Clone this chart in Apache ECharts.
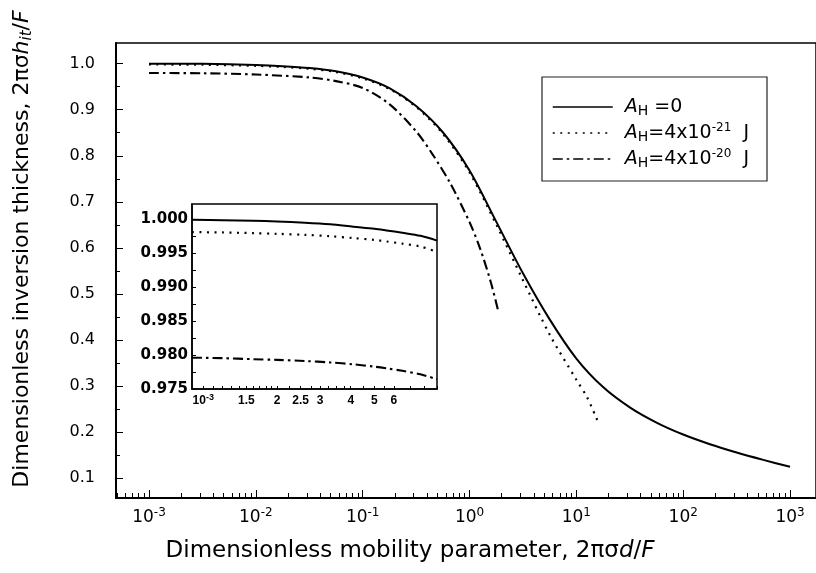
<!DOCTYPE html>
<html>
<head>
<meta charset="utf-8">
<script src="https://cdn.jsdelivr.net/npm/echarts@6/dist/echarts.min.js"></script>
<style>
html,body{margin:0;padding:0;background:#fff;}
#c{width:816px;height:573px;}
</style>
</head>
<body>
<div id="c"></div>
<script>
// ---------- data (x stored as log10 of mobility parameter) ----------
const solidLogX = [-3, -2.5, -2, -1.75, -1.5, -1.25, -1, -0.75, -0.5, -0.25, 0, 0.25, 0.5, 0.75, 1.0, 1.25, 1.5, 1.75, 2, 2.25, 2.5, 2.75, 3];
const solidY    = [0.9999, 0.9994, 0.9970, 0.9945, 0.9905, 0.9835, 0.970, 0.947, 0.908, 0.851, 0.768, 0.657, 0.545, 0.445, 0.360, 0.298, 0.254, 0.221, 0.195, 0.174, 0.156, 0.140, 0.125];

const dotLogX = [-3, -2.5, -2, -1.75, -1.5, -1.25, -1, -0.75, -0.5, -0.25, 0, 0.25, 0.5, 0.75, 1.0, 1.1, 1.198];
const dotY    = [0.9981, 0.9975, 0.9952, 0.9928, 0.9887, 0.9817, 0.968, 0.945, 0.906, 0.848, 0.764, 0.651, 0.530, 0.412, 0.314, 0.276, 0.225];

const ddLogX = [-3, -2.5, -2, -1.5, -1.25, -1, -0.75, -0.5, -0.34, -0.18, 0, 0.1, 0.2, 0.271];
const ddY    = [0.9796, 0.9790, 0.9763, 0.970, 0.962, 0.947, 0.912, 0.853, 0.801, 0.740, 0.656, 0.598, 0.525, 0.461];

// inset: x in units of 1e-3
const insetX     = [0.9, 1.2, 1.6, 2.0, 2.6, 3.3, 4.1, 5.0, 5.6, 6.5, 7.7, 9.0];
const insetSolid = [0.99997, 0.99992, 0.99982, 0.99972, 0.99954, 0.99930, 0.99895, 0.99865, 0.99840, 0.99805, 0.99760, 0.99690];
const insetDot   = [0.99815, 0.99810, 0.99800, 0.99790, 0.99775, 0.99755, 0.99727, 0.99700, 0.99677, 0.99645, 0.99603, 0.99521];
const insetDD    = [0.97962, 0.97955, 0.97940, 0.97930, 0.97913, 0.97892, 0.97864, 0.97830, 0.97805, 0.97768, 0.97717, 0.97644];

const mainXTickExp = [-3, -2, -1, 0, 1, 2, 3];
const mainYTicks = [0.1, 0.2, 0.3, 0.4, 0.5, 0.6, 0.7, 0.8, 0.9, 1.0];
const insetXLabels = [1, 1.5, 2, 2.5, 3, 4, 5, 6];
const insetYTicks = [0.975, 0.980, 0.985, 0.990, 0.995, 1.000];

const seriesNames = ['AH0', 'AH21', 'AH20'];

// ---------- build ----------
const FONT = '"DejaVu Sans", "Liberation Sans", Arial, sans-serif';
const FONT2 = '"Liberation Sans", Arial, sans-serif';
const zip = (xs, ys) => xs.map((x, i) => [x, ys[i]]);
const zipInset = (xs, ys) => xs.map((x, i) => [Math.log10(x * 1e-3), ys[i]]);

const X0 = -3.309, X1 = 3.243;
const minorX = [];
for (let n = -4; n <= 3; n++) for (let k = 2; k <= 9; k++) {
  const v = Math.log10(k) + n;
  if (v > X0 && v < X1) minorX.push(v);
}
const minorY = [0.15, 0.25, 0.35, 0.45, 0.55, 0.65, 0.75, 0.85, 0.95];

const IX0 = Math.log10(0.9e-3), IX1 = Math.log10(9e-3);
const insetXTicks = [];
for (let m = 10; m <= 90; m += (m < 20 ? 1 : (m < 40 ? 2.5 : (m < 60 ? 5 : 10)))) {
  insetXTicks.push(Math.log10(m * 1e-4));
}
const insetYMinor = [];
for (let i = 0; i <= 10; i++) insetYMinor.push(0.975 + i * 0.0025);

const supRich = {
  b: { fontSize: 17, fontFamily: FONT, color: '#000', lineHeight: 22 },
  s: { fontSize: 12, fontFamily: FONT, color: '#000', lineHeight: 12, verticalAlign: 'top' }
};
const supRichInset = {
  b: { fontSize: 12, fontFamily: FONT2, fontWeight: 'bold', color: '#000', lineHeight: 16 },
  s: { fontSize: 9, fontFamily: FONT2, fontWeight: 'bold', color: '#000', lineHeight: 9, verticalAlign: 'top' },
  n: { fontSize: 12, fontFamily: FONT2, fontWeight: 'bold', color: '#000', lineHeight: 16 }
};

const styles = [
  { type: 'solid', width: 2 },
  { type: [2, 5.5], width: 2.2 },
  { type: [10, 4, 2.5, 4], width: 2.1 }
];

const chart = echarts.init(document.getElementById('c'), null, { renderer: 'canvas' });

const option = {
  backgroundColor: '#fff',
  animation: false,
  grid: [
    { left: 116, top: 43, width: 702, height: 455, show: true, borderColor: '#000', borderWidth: 1.5, containLabel: false },
    { left: 192, top: 204, width: 245, height: 185, show: true, borderColor: '#000', borderWidth: 1.5, backgroundColor: '#fff', containLabel: false }
  ],
  xAxis: [
    { type: 'value', gridIndex: 0, min: X0, max: X1, position: 'bottom', offset: 0,
      axisLine: { show: true, onZero: false, lineStyle: { color: '#000', width: 2 } },
      axisTick: { show: true, inside: true, length: 8, customValues: mainXTickExp, lineStyle: { color: '#000', width: 1 } },
      axisLabel: { show: true, margin: 9, customValues: mainXTickExp,
        formatter: v => '{b|10}{s|' + Math.round(v) + '}', rich: supRich },
      splitLine: { show: false } },
    { type: 'value', gridIndex: 0, min: X0, max: X1, position: 'bottom', offset: 0,
      axisLine: { show: false, onZero: false },
      axisTick: { show: true, inside: true, length: 5, customValues: minorX, lineStyle: { color: '#000', width: 1 } },
      axisLabel: { show: false }, splitLine: { show: false } },
    { type: 'value', gridIndex: 1, min: IX0, max: IX1, position: 'bottom', offset: 0,
      axisLine: { show: true, onZero: false, lineStyle: { color: '#000', width: 1.5 } },
      axisTick: { show: true, inside: true, length: 3, customValues: insetXTicks, lineStyle: { color: '#000', width: 1 } },
      axisLabel: { show: true, margin: 4, customValues: insetXLabels.map(m => Math.log10(m * 1e-3)),
        formatter: v => {
          const m = Math.round(Math.pow(10, v + 3) * 10) / 10;
          return m === 1 ? '{b|10}{s|-3}' : '{n|' + m + '}';
        }, rich: supRichInset },
      splitLine: { show: false } }
  ],
  yAxis: [
    { type: 'value', gridIndex: 0, min: 0.0573, max: 1.0447, position: 'left', offset: 0,
      axisLine: { show: true, onZero: false, lineStyle: { color: '#000', width: 2 } },
      axisTick: { show: true, inside: true, length: 7, customValues: mainYTicks, lineStyle: { color: '#000', width: 1 } },
      axisLabel: { show: true, margin: 21, customValues: mainYTicks, formatter: v => v.toFixed(1),
        fontSize: 16, fontFamily: FONT, color: '#000' },
      splitLine: { show: false } },
    { type: 'value', gridIndex: 0, min: 0.0573, max: 1.0447, position: 'left', offset: 0,
      axisLine: { show: false, onZero: false },
      axisTick: { show: true, inside: true, length: 4, customValues: minorY, lineStyle: { color: '#000', width: 1 } },
      axisLabel: { show: false }, splitLine: { show: false } },
    { type: 'value', gridIndex: 1, min: 0.975, max: 1.0023, position: 'left', offset: 0,
      axisLine: { show: true, onZero: false, lineStyle: { color: '#000', width: 1.5 } },
      axisTick: { show: true, inside: true, length: 4, customValues: insetYMinor, lineStyle: { color: '#000', width: 1 } },
      axisLabel: { show: true, margin: 4, customValues: insetYTicks, formatter: v => v.toFixed(3),
        fontSize: 15, fontWeight: 'bold', fontFamily: FONT, color: '#000' },
      splitLine: { show: false } }
  ],
  legend: {
    show: true, orient: 'vertical', left: 552, top: 96, padding: 0,
    itemWidth: 60, itemHeight: 14, itemGap: 4,
    data: seriesNames,
    lineStyle: { width: 1.5 },
    itemStyle: { opacity: 0, color: 'rgba(0,0,0,0)', borderColor: 'rgba(0,0,0,0)', borderWidth: 0 },
    textStyle: { fontSize: 19, fontFamily: FONT, color: '#000', lineHeight: 22, padding: [0, 0, 0, 7],
      rich: {
        i: { fontSize: 19, fontStyle: 'italic', fontFamily: FONT, color: '#000', lineHeight: 22 },
        h: { fontSize: 14, fontFamily: FONT, color: '#000', lineHeight: 13, verticalAlign: 'bottom' },
        n: { fontSize: 19, fontFamily: FONT, color: '#000', lineHeight: 22 },
        s: { fontSize: 12, fontFamily: FONT, color: '#000', lineHeight: 12, verticalAlign: 'top' }
      } },
    formatter: name => {
      if (name === 'AH0') return '{i|A}{h|H}{n| =0}';
      if (name === 'AH21') return '{i|A}{h|H}{n|=4x10}{s|-21}{n|  J}';
      return '{i|A}{h|H}{n|=4x10}{s|-20}{n|  J}';
    }
  },
  graphic: [
    { type: 'rect', shape: { x: 542, y: 77, width: 225, height: 104 },
      style: { fill: 'none', stroke: '#222', lineWidth: 1.2 }, z: 10 },
    { type: 'text', x: 410, y: 551, z: 10,
      style: { text: 'Dimensionless mobility parameter, 2πσ{i|d}/{i|F}', fontSize: 23, fontFamily: FONT, fill: '#000',
        align: 'center', verticalAlign: 'middle',
        rich: { i: { fontSize: 23, fontStyle: 'italic', fontFamily: FONT } } } },
    { type: 'text', x: 22, y: 249, rotation: Math.PI / 2, z: 10,
      style: { text: 'Dimensionless inversion thickness, 2πσ{i|h}{sub|it}/{i|F}', fontSize: 22, fontFamily: FONT, fill: '#000',
        align: 'center', verticalAlign: 'middle',
        rich: { i: { fontSize: 22, fontStyle: 'italic', fontFamily: FONT, lineHeight: 26 },
                sub: { fontSize: 15, fontStyle: 'italic', fontFamily: FONT, lineHeight: 13, verticalAlign: 'bottom' } } } }
  ],
  series: [
    { name: 'AH0', type: 'line', xAxisIndex: 0, yAxisIndex: 0, data: zip(solidLogX, solidY), smooth: 0.3,
      showSymbol: false, symbol: 'none', color: '#000', lineStyle: { color: '#000', ...styles[0] } },
    { name: 'AH21', type: 'line', xAxisIndex: 0, yAxisIndex: 0, data: zip(dotLogX, dotY), smooth: 0.3,
      showSymbol: false, symbol: 'none', color: '#000', lineStyle: { color: '#000', ...styles[1] } },
    { name: 'AH20', type: 'line', xAxisIndex: 0, yAxisIndex: 0, data: zip(ddLogX, ddY), smooth: 0.3,
      showSymbol: false, symbol: 'none', color: '#000', lineStyle: { color: '#000', ...styles[2] } },
    { name: 'inset0', type: 'line', xAxisIndex: 2, yAxisIndex: 2, data: zipInset(insetX, insetSolid), smooth: 0.3,
      showSymbol: false, symbol: 'none', z: 5, lineStyle: { color: '#000', ...styles[0] } },
    { name: 'inset21', type: 'line', xAxisIndex: 2, yAxisIndex: 2, data: zipInset(insetX, insetDot), smooth: 0.3,
      showSymbol: false, symbol: 'none', z: 5, lineStyle: { color: '#000', ...styles[1] } },
    { name: 'inset20', type: 'line', xAxisIndex: 2, yAxisIndex: 2, data: zipInset(insetX, insetDD), smooth: 0.3,
      showSymbol: false, symbol: 'none', z: 5, lineStyle: { color: '#000', ...styles[2] } }
  ]
};
chart.setOption(option);
</script>
</body>
</html>
